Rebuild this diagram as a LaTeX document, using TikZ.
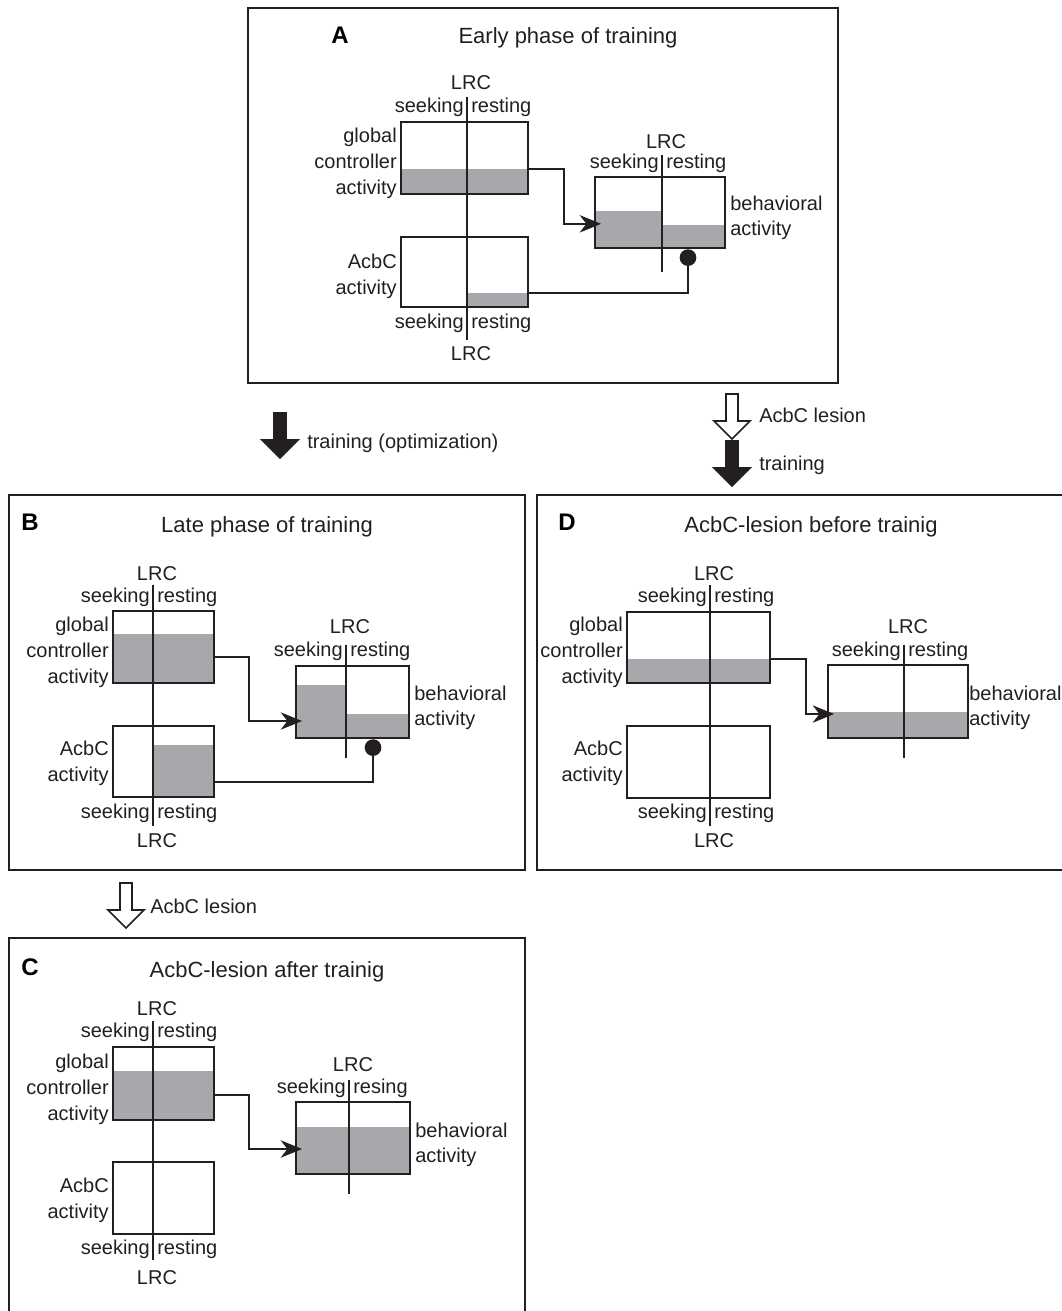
\documentclass[tikz,border=0pt]{standalone}
\usepackage{fontspec}
\setmainfont{Liberation Sans}
\usetikzlibrary{arrows.meta,positioning}
\definecolor{ink}{RGB}{35,31,32}
\definecolor{level}{RGB}{167,168,172}
\tikzset{
    actbox/.style 2 args={draw=ink, line width=1.9pt, minimum width={#1*0.75pt}, minimum height={#2*0.75pt}, inner sep=0pt},
    lrcline/.style={draw=ink, line width=1.7pt},
    frame/.style={draw=ink, line width=1.7pt},
    lbl/.style={font=\fontsize{15}{18}\selectfont, inner sep=0pt, text=ink},
    heading/.style={font=\fontsize{16.5}{20}\selectfont, inner sep=0pt, anchor=base, text=ink},
    tag/.style={font=\fontsize{18}{22}\selectfont\bfseries, inner sep=0pt, anchor=base, text=black},
    excite/.style={draw=ink, line width=1.7pt, -{Stealth[length=16pt, width=13pt, inset=5pt]}},
    inhibit/.style={draw=ink, line width=1.7pt, -{Circle[length=12.5pt]}},
    fatarrow/.style={line width=1.3pt, draw=ink, insert path={++(-6,0) -- ++(12,0) -- ++(0,27) -- ++(12,0) -- ++(-18,18) -- ++(-18,-18) -- ++(12,0) -- cycle}},
}
\begin{document}
\begin{tikzpicture}[x=0.75pt, y=-0.75pt]
    \useasboundingbox[fill=white] (0,0) rectangle (1062,1311);

    % ---------- A: early phase
    \draw[frame] (248,8) rectangle (838,383);
    \node[tag] (tagA) at (340,43) {A};
    \node[heading] (titleA) at (568,43) {Early phase of training};
    \fill[level] (401,169) rectangle (528,194);
    \fill[level] (467,293) rectangle (528,307);
    \fill[level] (595,211) rectangle (662,248);
    \fill[level] (662,225) rectangle (725,248);
    \node[actbox={127}{72}] (gcA) at (464.5,158) {};
    \node[actbox={127}{70}] (acA) at (464.5,272) {};
    \node[actbox={130}{71}] (bhA) at (660,212.5) {};
    \draw[lrcline] (467,97) -- (467,340);
    \draw[lrcline] (662,155) -- (662,272);
    \node[lbl, anchor=base] (lrcA1) at (471,89) {LRC};
    \node[lbl, anchor=base east] (skA1) at (464,112) {seeking};
    \node[lbl, anchor=base west] (rsA1) at (471,112) {resting};
    \node[lbl, anchor=base east] (glA) at (397,142) {global};
    \node[lbl, anchor=base east] (ctA) at (397,168) {controller};
    \node[lbl, anchor=base east] (avA1) at (397,194) {activity};
    \node[lbl, anchor=base east] (abA) at (397,268) {AcbC};
    \node[lbl, anchor=base east] (avA2) at (397,294) {activity};
    \node[lbl, anchor=base east] (skA2) at (464,328) {seeking};
    \node[lbl, anchor=base west] (rsA2) at (471,328) {resting};
    \node[lbl, anchor=base] (lrcA2) at (471,360) {LRC};
    \node[lbl, anchor=base] (lrcA3) at (666,148) {LRC};
    \node[lbl, anchor=base east] (skA3) at (659,168) {seeking};
    \node[lbl, anchor=base west] (rsA3) at (666,168) {resting};
    \node[lbl, anchor=base west] (bvA1) at (730,210) {behavioral};
    \node[lbl, anchor=base west] (bvA2) at (730,235) {activity};
    \draw[excite] ([yshift=-8.25pt]gcA.east) -- ++(35,0) |- ([xshift=5.5pt,yshift=-8.5pt]bhA.west);
    \draw[inhibit] ([yshift=-15.5pt]acA.east) -| ([xshift=21pt]bhA.south);

    % ---------- transitions
    \coordinate (trainB) at (280,413);
    \coordinate (lesionD) at (732,394);
    \coordinate (trainD) at (732,441);
    \coordinate (lesionC) at (126,883);
    \draw[fill=ink] (trainB) [fatarrow];
    \draw[fill=white] (lesionD) [fatarrow];
    \draw[fill=ink] (trainD) [fatarrow];
    \draw[fill=white] (lesionC) [fatarrow];
    \node[lbl, anchor=west] (trainBtxt) at (307,443) {training (optimization)};
    \node[lbl, anchor=west] (lesionDtxt) at (759,415) {AcbC lesion};
    \node[lbl, anchor=west] (trainDtxt) at (759,465) {training};
    \node[lbl, anchor=west] (lesionCtxt) at (150,906) {AcbC lesion};

    % ---------- B: late phase
    \draw[frame] (9,495) rectangle (525,870);
    \node[tag] (tagB) at (30,530) {B};
    \node[heading] (titleB) at (267,532) {Late phase of training};
    \fill[level] (113,634) rectangle (214,683);
    \fill[level] (153,745) rectangle (214,797);
    \fill[level] (296,685) rectangle (346,738);
    \fill[level] (346,714) rectangle (409,738);
    \node[actbox={101}{72}] (gcB) at (163.5,647) {};
    \node[actbox={101}{71}] (acB) at (163.5,761.5) {};
    \node[actbox={113}{72}] (bhB) at (352.5,702) {};
    \draw[lrcline] (153,585) -- (153,826);
    \draw[lrcline] (346,645) -- (346,758);
    \node[lbl, anchor=base] (lrcB1) at (157,580) {LRC};
    \node[lbl, anchor=base east] (skB1) at (150,602) {seeking};
    \node[lbl, anchor=base west] (rsB1) at (157,602) {resting};
    \node[lbl, anchor=base east] (glB) at (109,631) {global};
    \node[lbl, anchor=base east] (ctB) at (109,657) {controller};
    \node[lbl, anchor=base east] (avB1) at (109,683) {activity};
    \node[lbl, anchor=base east] (abB) at (109,755) {AcbC};
    \node[lbl, anchor=base east] (avB2) at (109,781) {activity};
    \node[lbl, anchor=base east] (skB2) at (150,818) {seeking};
    \node[lbl, anchor=base west] (rsB2) at (157,818) {resting};
    \node[lbl, anchor=base] (lrcB2) at (157,847) {LRC};
    \node[lbl, anchor=base] (lrcB3) at (350,633) {LRC};
    \node[lbl, anchor=base east] (skB3) at (343,656) {seeking};
    \node[lbl, anchor=base west] (rsB3) at (350,656) {resting};
    \node[lbl, anchor=base west] (bvB1) at (414,700) {behavioral};
    \node[lbl, anchor=base west] (bvB2) at (414,725) {activity};
    \draw[excite] ([yshift=-7.7pt]gcB.east) -- ++(34,0) |- ([xshift=5.5pt,yshift=-14.25pt]bhB.west);
    \draw[inhibit] ([yshift=-15.6pt]acB.east) -| ([xshift=15.4pt]bhB.south);

    % ---------- D: lesion before training
    \draw[frame] (537,495) rectangle (1075,870);
    \node[tag] (tagD) at (567,530) {D};
    \node[heading] (titleD) at (811,532) {AcbC-lesion before trainig};
    \fill[level] (627,659) rectangle (770,683);
    \fill[level] (828,712) rectangle (968,738);
    \node[actbox={143}{71}] (gcD) at (698.5,647.5) {};
    \node[actbox={143}{72}] (acD) at (698.5,762) {};
    \node[actbox={140}{73}] (bhD) at (898,701.5) {};
    \draw[lrcline] (710,585) -- (710,826);
    \draw[lrcline] (904,645) -- (904,758);
    \node[lbl, anchor=base] (lrcD1) at (714,580) {LRC};
    \node[lbl, anchor=base east] (skD1) at (707,602) {seeking};
    \node[lbl, anchor=base west] (rsD1) at (714,602) {resting};
    \node[lbl, anchor=base east] (glD) at (623,631) {global};
    \node[lbl, anchor=base east] (ctD) at (623,657) {controller};
    \node[lbl, anchor=base east] (avD1) at (623,683) {activity};
    \node[lbl, anchor=base east] (abD) at (623,755) {AcbC};
    \node[lbl, anchor=base east] (avD2) at (623,781) {activity};
    \node[lbl, anchor=base east] (skD2) at (707,818) {seeking};
    \node[lbl, anchor=base west] (rsD2) at (714,818) {resting};
    \node[lbl, anchor=base] (lrcD2) at (714,847) {LRC};
    \node[lbl, anchor=base] (lrcD3) at (908,633) {LRC};
    \node[lbl, anchor=base east] (skD3) at (901,656) {seeking};
    \node[lbl, anchor=base west] (rsD3) at (908,656) {resting};
    \node[lbl, anchor=base west] (bvD1) at (969,700) {behavioral};
    \node[lbl, anchor=base west] (bvD2) at (969,725) {activity};
    \draw[excite] ([yshift=-8.4pt]gcD.east) -- ++(35,0) |- ([xshift=5.5pt,yshift=-9.4pt]bhD.west);

    % ---------- C: lesion after training
    \draw[frame] (9,938) rectangle (525,1330);
    \node[tag] (tagC) at (30,975) {C};
    \node[heading] (titleC) at (267,977) {AcbC-lesion after trainig};
    \fill[level] (113,1071) rectangle (214,1120);
    \fill[level] (296,1127) rectangle (410,1174);
    \node[actbox={101}{73}] (gcC) at (163.5,1083.5) {};
    \node[actbox={101}{72}] (acC) at (163.5,1198) {};
    \node[actbox={114}{72}] (bhC) at (353,1138) {};
    \draw[lrcline] (153,1021) -- (153,1260);
    \draw[lrcline] (349,1080) -- (349,1194);
    \node[lbl, anchor=base] (lrcC1) at (157,1015) {LRC};
    \node[lbl, anchor=base east] (skC1) at (150,1037) {seeking};
    \node[lbl, anchor=base west] (rsC1) at (157,1037) {resting};
    \node[lbl, anchor=base east] (glC) at (109,1068) {global};
    \node[lbl, anchor=base east] (ctC) at (109,1094) {controller};
    \node[lbl, anchor=base east] (avC1) at (109,1120) {activity};
    \node[lbl, anchor=base east] (abC) at (109,1192) {AcbC};
    \node[lbl, anchor=base east] (avC2) at (109,1218) {activity};
    \node[lbl, anchor=base east] (skC2) at (150,1254) {seeking};
    \node[lbl, anchor=base west] (rsC2) at (157,1254) {resting};
    \node[lbl, anchor=base] (lrcC2) at (157,1284) {LRC};
    \node[lbl, anchor=base] (lrcC3) at (353,1071) {LRC};
    \node[lbl, anchor=base east] (skC3) at (346,1093) {seeking};
    \node[lbl, anchor=base west] (rsC3) at (353,1093) {resing};
    \node[lbl, anchor=base west] (bvC1) at (415,1137) {behavioral};
    \node[lbl, anchor=base west] (bvC2) at (415,1162) {activity};
    \draw[excite] ([yshift=-8.6pt]gcC.east) -- ++(34,0) |- ([xshift=5.5pt,yshift=-8.25pt]bhC.west);
\end{tikzpicture}
\end{document}
